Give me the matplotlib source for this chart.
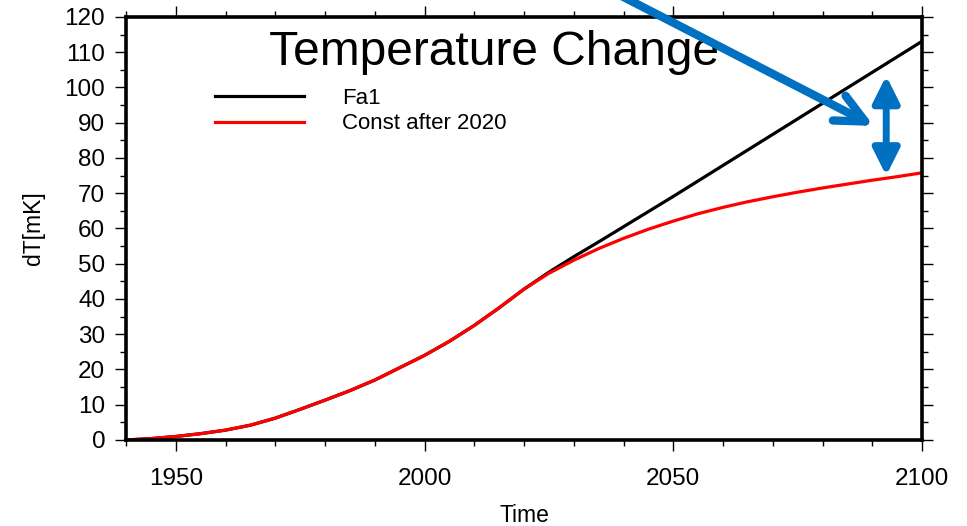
import matplotlib.pyplot as plt
from matplotlib.ticker import MultipleLocator

plt.rcParams['font.family'] = ['Liberation Sans', 'DejaVu Sans']

# model years and temperature response in mK
years = [1940, 1945, 1950, 1955, 1960, 1965, 1970, 1975, 1980, 1985, 1990,
         1995, 2000, 2005, 2010, 2015, 2020, 2025, 2030, 2035, 2040, 2045,
         2050, 2055, 2060, 2065, 2070, 2075, 2080, 2085, 2090, 2095, 2100]
dt_fa1 = [0.0, 0.4, 1.0, 1.8, 2.8, 4.2, 6.2, 8.7, 11.3, 14.0, 17.0,
          20.5, 24.0, 28.0, 32.5, 37.5, 42.8, 47.6, 52.0, 56.2, 60.5, 64.8,
          69.1, 73.5, 77.9, 82.3, 86.7, 91.1, 95.5, 99.9, 104.3, 108.7, 113.1]
dt_const = [0.0, 0.4, 1.0, 1.8, 2.8, 4.2, 6.2, 8.7, 11.3, 14.0, 17.0,
            20.5, 24.0, 28.0, 32.5, 37.5, 42.8, 47.3, 51.0, 54.3, 57.2, 59.8,
            62.1, 64.2, 66.0, 67.6, 69.0, 70.3, 71.5, 72.6, 73.7, 74.7, 75.8]
labels = ['Fa1', 'Const after 2020']

blue = '#0070C0'

fig = plt.figure(figsize=(9.67, 5.26), dpi=100)
ax = fig.add_axes([0.1303, 0.1635, 0.8232, 0.8042])

ax.plot(years, dt_fa1, color='black', lw=2.3, label=labels[0])
ax.plot(years, dt_const, color='red', lw=2.3, label=labels[1])

ax.set_xlim(1940, 2100)
ax.set_ylim(0, 120)
ax.xaxis.set_major_locator(MultipleLocator(50))
ax.xaxis.set_minor_locator(MultipleLocator(10))
ax.yaxis.set_major_locator(MultipleLocator(10))
ax.yaxis.set_minor_locator(MultipleLocator(5))

for s in ax.spines.values():
    s.set_linewidth(2.6)
ax.tick_params(which='both', direction='out', top=True, right=True, width=1.0)
ax.tick_params(which='major', length=8)
ax.tick_params(which='minor', length=4)
ax.tick_params(axis='x', which='major', labelsize=17.5, pad=12)
ax.tick_params(axis='y', which='major', labelsize=17.5, pad=7)

ax.set_xlabel('Time', fontsize=16.5, labelpad=10)
ax.set_ylabel('dT[mK]', fontsize=16.5, labelpad=14)

ax.text(0.462, 0.915, 'Temperature Change', transform=ax.transAxes,
        fontsize=34.5, ha='center', va='center')

ax.legend(loc='upper left', bbox_to_anchor=(0.112, 0.832), frameon=False,
          fontsize=16, handlelength=4.0, handletextpad=1.7, labelspacing=0.2,
          borderpad=0, borderaxespad=0)

# pointer onto the gap and the gap marker
ax.annotate('', xy=(2090.3, 89.1), xytext=(2036.5, 128.2),
            annotation_clip=False,
            arrowprops=dict(arrowstyle='->,head_length=1.05,head_width=0.5',
                            mutation_scale=20, lw=6, color=blue,
                            shrinkA=0, shrinkB=0, capstyle='round',
                            joinstyle='round'))
ax.annotate('', xy=(2092.8, 103.3), xytext=(2092.8, 75.0),
            annotation_clip=False,
            arrowprops=dict(arrowstyle='<|-|>,head_length=0.8,head_width=0.4',
                            mutation_scale=20, lw=5, color=blue,
                            shrinkA=0, shrinkB=0))

fig.savefig('out.png', dpi=100)
